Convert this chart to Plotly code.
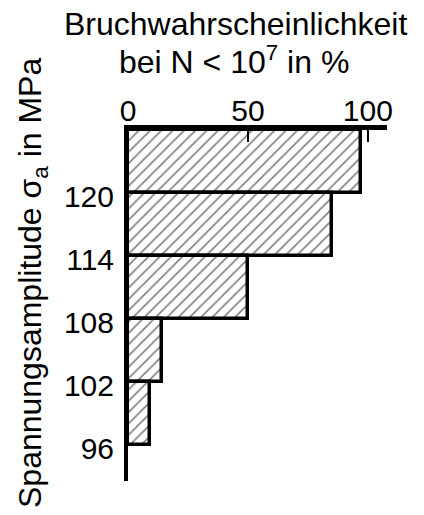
import plotly.graph_objects as go

levels = [120, 114, 108, 102, 96]          # lower stress level of each bar (MPa)
prob = [97, 85, 50, 14, 9]                  # failure probability in %
tick_levels = [120, 114, 108, 102, 96]
tick_labels = ["120", "114", "108", "102", "96"]
x_ticks = [0, 50, 100]

step = 6
centers = [v + step / 2 for v in levels]

FONT = "Liberation Sans, Arial, sans-serif"

fig = go.Figure()
fig.add_trace(go.Bar(
    x=prob, y=centers, orientation="h", width=step,
    marker=dict(color="white",
                line=dict(color="black", width=3.5),
                pattern=dict(shape="/", size=8, solidity=0.2,
                             fgcolor="black", bgcolor="white")),
    showlegend=False, hoverinfo="skip",
))

fig.update_layout(
    width=424, height=515,
    margin=dict(l=128, r=37, t=130, b=34),
    paper_bgcolor="white", plot_bgcolor="white",
    font=dict(family=FONT, size=30, color="black"),
    bargap=0,
    xaxis=dict(side="top", range=[0, 108], tickvals=x_ticks,
               ticks="inside", ticklen=12, tickwidth=1.5, tickcolor="black",
               showline=True, linewidth=5, linecolor="black",
               showgrid=False, zeroline=False, automargin=False,
               ticklabelstandoff=-8,
               tickfont=dict(size=30, family=FONT)),
    yaxis=dict(range=[92.6, 126], tickvals=[v - 0.3 for v in tick_levels],
               ticktext=tick_labels, ticks="",
               showline=True, linewidth=4, linecolor="black",
               showgrid=False, zeroline=False, ticklabelstandoff=4,
               automargin=False,
               tickfont=dict(size=30, family=FONT)),
    annotations=[
        dict(text="Bruchwahrscheinlichkeit",
             xref="paper", yref="paper", x=(235 - 128) / 259, y=1,
             yshift=130 - 24, xanchor="center", yanchor="middle",
             showarrow=False, font=dict(size=32, family=FONT)),
        dict(text="bei N &lt; 10<sup>7</sup> in %",
             xref="paper", yref="paper", x=(234 - 128) / 259, y=1,
             yshift=130 - 60, xanchor="center", yanchor="middle",
             showarrow=False, font=dict(size=32, family=FONT)),
        dict(text="Spannungsamplitude σ<sub>a</sub> in MPa",
             xref="paper", yref="paper", x=(32 - 128) / 259,
             y=(481 - 283) / 351, xanchor="center", yanchor="middle",
             textangle=-90, showarrow=False,
             font=dict(size=32, family=FONT)),
    ],
)

fig.write_html("out.html", config={"displayModeBar": False},
               post_script="document.body.style.margin='0';")
